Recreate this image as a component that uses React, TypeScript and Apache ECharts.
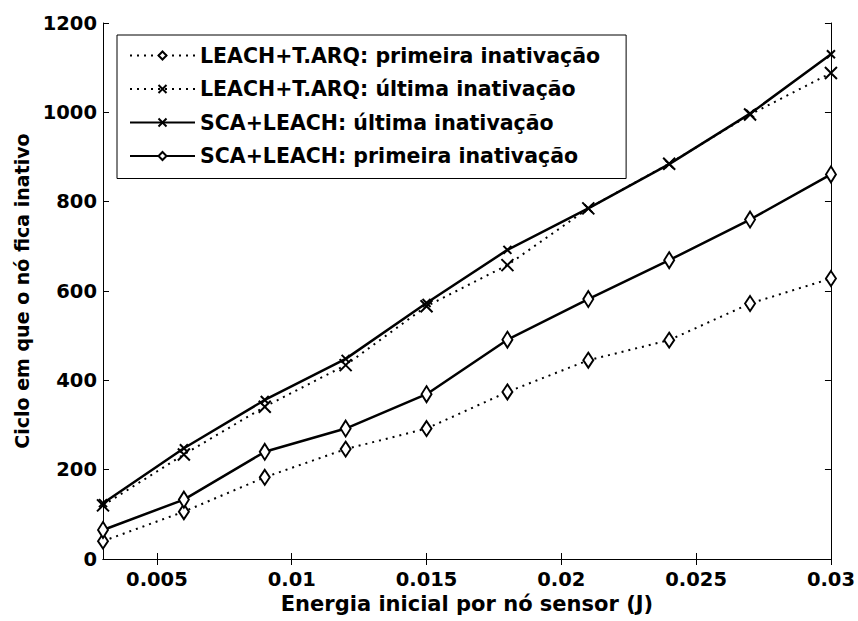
import React, { useEffect, useRef } from "react";
import * as echarts from "echarts";

const energy = [0.003, 0.006, 0.009, 0.012, 0.015, 0.018, 0.021, 0.024, 0.027, 0.03];
const leachArqFirst = [40, 106, 183, 246, 292, 374, 445, 490, 572, 628];
const leachArqLast = [120, 234, 341, 434, 566, 658, 785, 885, 995, 1088];
const scaLast = [125, 248, 356, 448, 573, 692, 785, 884, 997, 1130];
const scaFirst = [65, 133, 240, 292, 369, 491, 582, 669, 760, 861];
const xTicks = [0.005, 0.01, 0.015, 0.02, 0.025, 0.03];
const seriesNames = [
  "LEACH+T.ARQ: primeira inativação",
  "LEACH+T.ARQ: última inativação",
  "SCA+LEACH: última inativação",
  "SCA+LEACH: primeira inativação",
];
const xTitle = "Energia inicial por nó sensor (J)";
const yTitle = "Ciclo em que o nó fica inativo";

const FONT = "DejaVu Sans";
const X_PATH = "path://M0,0L10,10M10,0L0,10";

function pairs(ys: number[]) {
  return energy.map((x, i) => [x, ys[i]]);
}

export default function App() {
  const ref = useRef<HTMLDivElement>(null);
  useEffect(() => {
    if (!ref.current) return;
    const chart = echarts.init(ref.current, null, { renderer: "svg" });
    const axisLine = { show: true, lineStyle: { color: "#000", width: 1 } };
    const tickIn = { show: true, inside: true, length: 6, lineStyle: { color: "#000", width: 1 } };
    const dotted = [2, 5];
    const lbl = { fontFamily: FONT, fontSize: 19.5, fontWeight: "bold", color: "#000" };
    chart.setOption({
      animation: false,
      backgroundColor: "#fff",
      textStyle: { fontFamily: FONT, color: "#000" },
      grid: { left: 103, right: 22, top: 23, bottom: 62, show: false },
      legend: {
        orient: "vertical",
        left: 117,
        top: 35,
        padding: [10, 26, 12, 12],
        itemGap: 12.5,
        itemWidth: 65,
        itemHeight: 10,
        backgroundColor: "#fff",
        borderColor: "#000",
        borderWidth: 1,
        borderRadius: 0,
        textStyle: { fontFamily: FONT, fontSize: 20.5, fontWeight: "bold", lineHeight: 21, color: "#000" },
        data: seriesNames,
      },
      xAxis: [
        {
          type: "value",
          min: 0.003,
          max: 0.03,
          axisLine,
          axisTick: { ...tickIn, customValues: xTicks },
          axisLabel: {
            ...lbl,
            customValues: xTicks,
            margin: 10,
            formatter: (v: number) => String(v),
          },
          splitLine: { show: false },
          name: xTitle,
          nameLocation: "middle",
          nameGap: 31,
          nameTextStyle: { fontFamily: FONT, fontSize: 21, fontWeight: "bold", color: "#000" },
        },
        {
          type: "value",
          position: "top",
          min: 0.003,
          max: 0.03,
          axisLine,
          axisTick: { ...tickIn, customValues: xTicks },
          axisLabel: { show: false },
          splitLine: { show: false },
        },
      ],
      yAxis: [
        {
          type: "value",
          min: 0,
          max: 1200,
          interval: 200,
          axisLine,
          axisTick: tickIn,
          axisLabel: { ...lbl, margin: 6, formatter: (v: number) => String(v) },
          splitLine: { show: false },
          name: yTitle,
          nameLocation: "middle",
          nameGap: 61,
          nameTextStyle: { fontFamily: FONT, fontSize: 19, fontWeight: "bold", color: "#000" },
        },
        {
          type: "value",
          position: "right",
          min: 0,
          max: 1200,
          interval: 200,
          axisLine,
          axisTick: tickIn,
          axisLabel: { show: false },
          splitLine: { show: false },
        },
      ],
      series: [
        {
          name: seriesNames[0],
          type: "line",
          data: pairs(leachArqFirst),
          symbol: "emptyDiamond",
          symbolSize: [10, 15],
          lineStyle: { color: "#000", width: 2, type: dotted },
          itemStyle: { color: "#000", borderWidth: 2 },
        },
        {
          name: seriesNames[1],
          type: "line",
          data: pairs(leachArqLast),
          symbol: X_PATH,
          symbolSize: 12,
          lineStyle: { color: "#000", width: 2, type: dotted },
          itemStyle: { color: "#000", borderColor: "#000", borderWidth: 2 },
        },
        {
          name: seriesNames[2],
          type: "line",
          data: pairs(scaLast),
          symbol: X_PATH,
          symbolSize: 8,
          lineStyle: { color: "#000", width: 2.5, type: "solid" },
          itemStyle: { color: "#000", borderColor: "#000", borderWidth: 2 },
        },
        {
          name: seriesNames[3],
          type: "line",
          data: pairs(scaFirst),
          symbol: "emptyDiamond",
          symbolSize: [10, 16],
          lineStyle: { color: "#000", width: 2.5, type: "solid" },
          itemStyle: { color: "#000", borderWidth: 2.5 },
        },
      ],
    });
    return () => chart.dispose();
  }, []);
  return (
    <div
      ref={ref}
      style={{ position: "fixed", left: 0, top: 0, width: "858px", height: "621px" }}
    />
  );
}
